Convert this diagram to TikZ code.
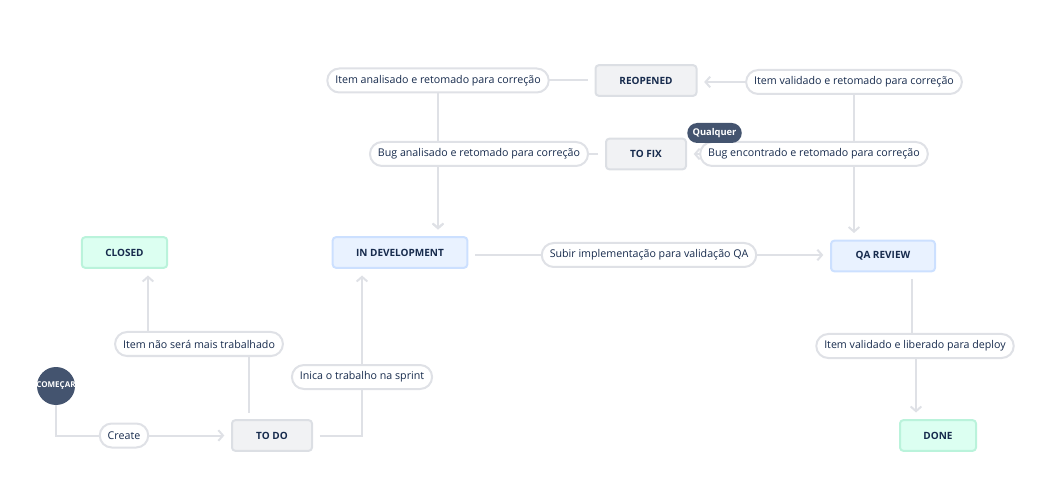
\documentclass[tikz,border=0pt]{standalone}
\usepackage{fontspec}
\setmainfont{Open Sans}
\usetikzlibrary{arrows.meta,positioning}

\definecolor{jline}{HTML}{DFE1E6}
\definecolor{jtext}{HTML}{172B4D}
\definecolor{jgray}{HTML}{F1F2F4}
\definecolor{jgrayb}{HTML}{DCDFE4}
\definecolor{jblue}{HTML}{E9F2FF}
\definecolor{jblueb}{HTML}{CCE0FF}
\definecolor{jgreen}{HTML}{DCFFF1}
\definecolor{jgreenb}{HTML}{BAF3DB}
\definecolor{jslate}{HTML}{44546F}

\tikzset{
  status/.style={draw=jgrayb,fill=jgray,line width=1.5pt,rounded corners=2.5pt,
    minimum height=23pt,inner sep=0pt,text=jtext,font=\fontsize{7.5}{9}\selectfont\bfseries},
  devstatus/.style={status,draw=jblueb,fill=jblue},
  donestatus/.style={status,draw=jgreenb,fill=jgreen},
  trans/.style={draw=jline,fill=white,line width=1.5pt,rounded corners=9pt,
    minimum height=18pt,inner xsep=6pt,inner ysep=0pt,text=jtext,font=\fontsize{8}{10}\selectfont},
  flow/.style={draw=jline,line width=1.5pt,-{Straight Barb[length=3.5pt,width=8pt]},shorten >=5pt}
}

\begin{document}
\begin{tikzpicture}[x=0.75pt,y=-0.75pt]
  \useasboundingbox (0,0) rectangle (1039,477);

  % statuses
  \node[status,minimum width=75.75pt] (reopened) at (646,80.5) {REOPENED};
  \node[status,minimum width=60pt] (tofix) at (646,154) {TO FIX};
  \node[donestatus,minimum width=64pt] (closed) at (124.5,252.5) {CLOSED};
  \node[devstatus,minimum width=101pt] (indev) at (400,252.5) {IN DEVELOPMENT};
  \node[devstatus,minimum width=78pt] (qareview) at (883,256) {QA REVIEW};
  \node[status,minimum width=60pt] (todo) at (272,435.5) {TO DO};
  \node[donestatus,minimum width=57pt] (done) at (938,435.5) {DONE};
  \node[circle,fill=jslate,minimum size=28.5pt,inner sep=0pt,text=white,
    font=\fontsize{6}{7}\selectfont\bfseries] (start) at (56,386) {\kern-2pt COMEÇAR\kern-2pt};

  % where the transition labels sit
  \coordinate (c-create) at (124,435.5);
  \coordinate (c-closed) at (199,344);
  \coordinate (c-sprint) at (362,377);
  \coordinate (c-qa) at (649,255);
  \coordinate (c-deploy) at (915,346);
  \coordinate (c-reopen) at (438,80.5);
  \coordinate (c-fixdev) at (479,154);
  \coordinate (c-back) at (854,82);
  \coordinate (c-bug) at (814,154);

  % transitions
  \draw[flow] (start) |- (todo);
  \draw[flow,shorten <=5pt] ([xshift=-17.25pt]todo.north) |- (c-closed) -| ([xshift=17.6pt]closed.south);
  \draw[flow,shorten <=5pt] (todo) -| ([xshift=-28.5pt]indev.south);
  \draw[flow,shorten <=5pt] (indev.east |- c-qa) -- (qareview.west |- c-qa);
  \draw[flow,shorten <=5pt] ([xshift=21.75pt]qareview.south) |- (c-deploy) -| ([xshift=-16.5pt]done.north);
  \draw[flow,shorten <=5pt] (reopened) -| ([xshift=28.5pt]indev.north);
  \draw[flow,shorten <=5pt] (tofix) -| ([xshift=28.5pt]indev.north);
  \draw[flow] (c-back) -- (reopened.east |- c-back);
  \draw[flow] (c-back) -- ([xshift=-21.75pt]qareview.north);
  \draw[flow] (c-bug) -- (tofix);

  % transition labels
  \node[trans] (create) at (c-create) {Create};
  \node[trans] (lclosed) at (c-closed) {Item não será mais trabalhado};
  \node[trans] (lsprint) at (c-sprint) {Inica o trabalho na sprint};
  \node[trans] (lqa) at (c-qa) {Subir implementação para validação QA};
  \node[trans] (ldeploy) at (c-deploy) {Item validado e liberado para deploy};
  \node[trans] (lreopen) at (c-reopen) {Item analisado e retomado para correção};
  \node[trans] (lfixdev) at (c-fixdev) {Bug analisado e retomado para correção};
  \node[trans] (lback) at (c-back) {Item validado e retomado para correção};
  \node[trans] (lbug) at (c-bug) {Bug encontrado e retomado para correção};
  \node[fill=jslate,rounded corners=7.5pt,minimum height=15pt,inner xsep=4pt,inner ysep=0pt,
    text=white,font=\fontsize{7}{8}\selectfont\bfseries] (anyst) at (714.5,133) {Qualquer};
\end{tikzpicture}
\end{document}
